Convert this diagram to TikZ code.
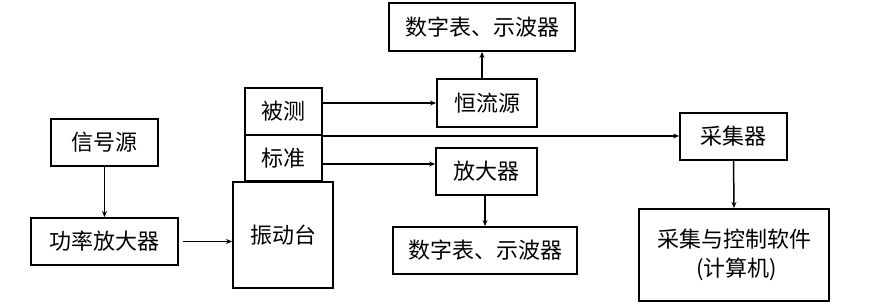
\documentclass[tikz,border=0pt]{standalone}
\usepackage{fontspec}
\setmainfont{Noto Sans CJK SC}
\usetikzlibrary{arrows.meta,calc}
\begin{document}
\begin{tikzpicture}[x=1pt,y=-1pt,
  box/.style={draw,line width=1.9pt,inner sep=0pt,align=center,
    font=\fontsize{22}{29}\selectfont},
  conn/.style={line width=1.5pt},
  arr/.style={conn,-{Stealth[length=6pt,width=5pt]}}]
\useasboundingbox[fill=white] (0,0) rectangle (890,305);
\node[box,minimum width=107pt,minimum height=47pt] (sig) at (104.5,142.5) {信号源};
\node[box,minimum width=147pt,minimum height=47pt] (pa) at (104.5,241.5) {功率放大器};
\node[box,minimum width=77pt,minimum height=47pt] (bc) at (283.5,111.5) {被测};
\node[box,minimum width=77pt,minimum height=46pt] (bz) at (283.5,158) {标准};
\node[box,minimum width=100pt,minimum height=106pt] (zdt) at (283,235) {振动台};
\node[box,minimum width=186pt,minimum height=48pt] (dm1) at (482,27) {数字表、示波器};
\node[box,minimum width=100pt,minimum height=48pt] (hl) at (487,103) {恒流源};
\node[box,minimum width=101pt,minimum height=47pt] (fd) at (486.5,171.5) {放大器};
\node[box,minimum width=184pt,minimum height=47pt] (dm2) at (485,250.5) {数字表、示波器};
\node[box,minimum width=107pt,minimum height=47pt] (cj) at (733.5,136.5) {采集器};
\node[box,minimum width=190pt,minimum height=92pt] (rj) at (734,255) {采集与控制软件\\\ (计算机)};
\coordinate (bzout) at ($(bz.east)+(0,6)$);
\draw[arr] (sig.south) -- (pa.north);
\draw[arr,shorten <=4pt] (pa.east) -- (zdt.west |- pa.east);
\draw[arr] (bc.east |- hl.west) -- (hl.west);
\draw[arr] (hl.north -| dm1.south) -- (dm1.south);
\draw[arr] (bc.south east) -- (cj.west |- bc.south east);
\draw[arr] (bzout) -- (fd.west |- bzout);
\draw[arr] (fd.south -| dm2.north) -- (dm2.north);
\draw[arr] (cj.south) -- (rj.north);
\end{tikzpicture}
\end{document}
